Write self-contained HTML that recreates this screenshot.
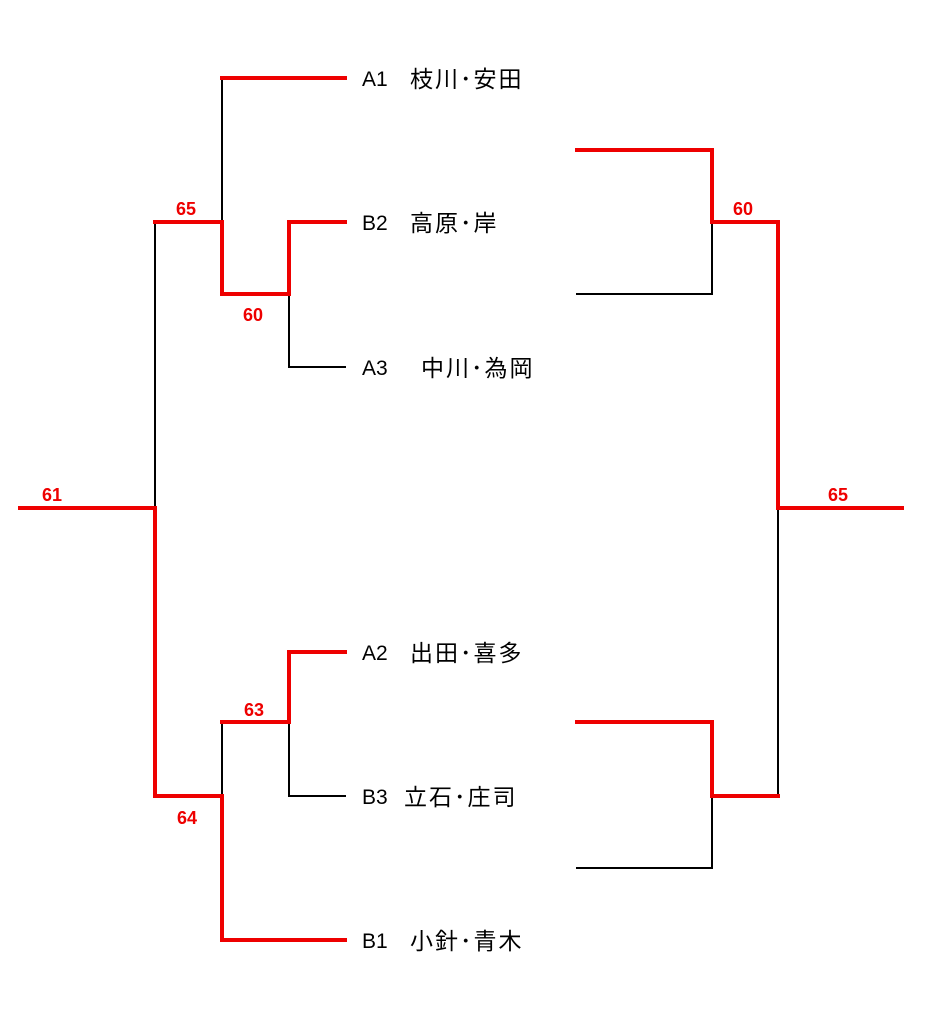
<!DOCTYPE html>
<html><head><meta charset="utf-8"><style>
html,body{margin:0;padding:0;background:#fff;}
svg{display:block;}
.t{font-family:"Liberation Sans",sans-serif;font-size:21px;fill:#000;}
.j{font-family:"Noto Sans CJK JP",sans-serif;font-size:23px;letter-spacing:2px;fill:#000;}
.n{font-family:"Liberation Sans",sans-serif;font-size:18px;font-weight:bold;fill:#e00;}
</style></head><body>
<svg width="940" height="1024" viewBox="0 0 940 1024">
<g fill="none" stroke-linecap="square">
<g stroke="#000" stroke-width="2">
<path d="M222 78V222"/>
<path d="M289 294V367H345"/>
<path d="M155 222V508"/>
<path d="M222 722V796"/>
<path d="M289 722V796H345"/>
<path d="M712 222V294H577"/>
<path d="M778 508V796"/>
<path d="M712 796V868H577"/>
</g>
<g stroke="#e00" stroke-width="4">
<path d="M345 78H222"/>
<path d="M155 222H222V294H289V222H345"/>
<path d="M20 508H155V796H222"/>
<path d="M345 940H222V796"/>
<path d="M222 722H289V652H345"/>
<path d="M577 150H712V222H778V508H902"/>
<path d="M577 722H712V796H778"/>
</g>
</g>
<text class="t" x="362" y="86">A1</text><text class="j" x="410" y="87">枝川･安田</text>
<text class="t" x="362" y="230">B2</text><text class="j" x="410" y="231">高原･岸</text>
<text class="t" x="362" y="375">A3</text><text class="j" x="421" y="376">中川･為岡</text>
<text class="t" x="362" y="660">A2</text><text class="j" x="410" y="661">出田･喜多</text>
<text class="t" x="362" y="804">B3</text><text class="j" x="404" y="805">立石･庄司</text>
<text class="t" x="362" y="948">B1</text><text class="j" x="410" y="949">小針･青木</text>
<text class="n" x="176" y="215">65</text>
<text class="n" x="243" y="321">60</text>
<text class="n" x="42" y="501">61</text>
<text class="n" x="244" y="716">63</text>
<text class="n" x="177" y="824">64</text>
<text class="n" x="733" y="215">60</text>
<text class="n" x="828" y="501">65</text>
</svg>
</body></html>
